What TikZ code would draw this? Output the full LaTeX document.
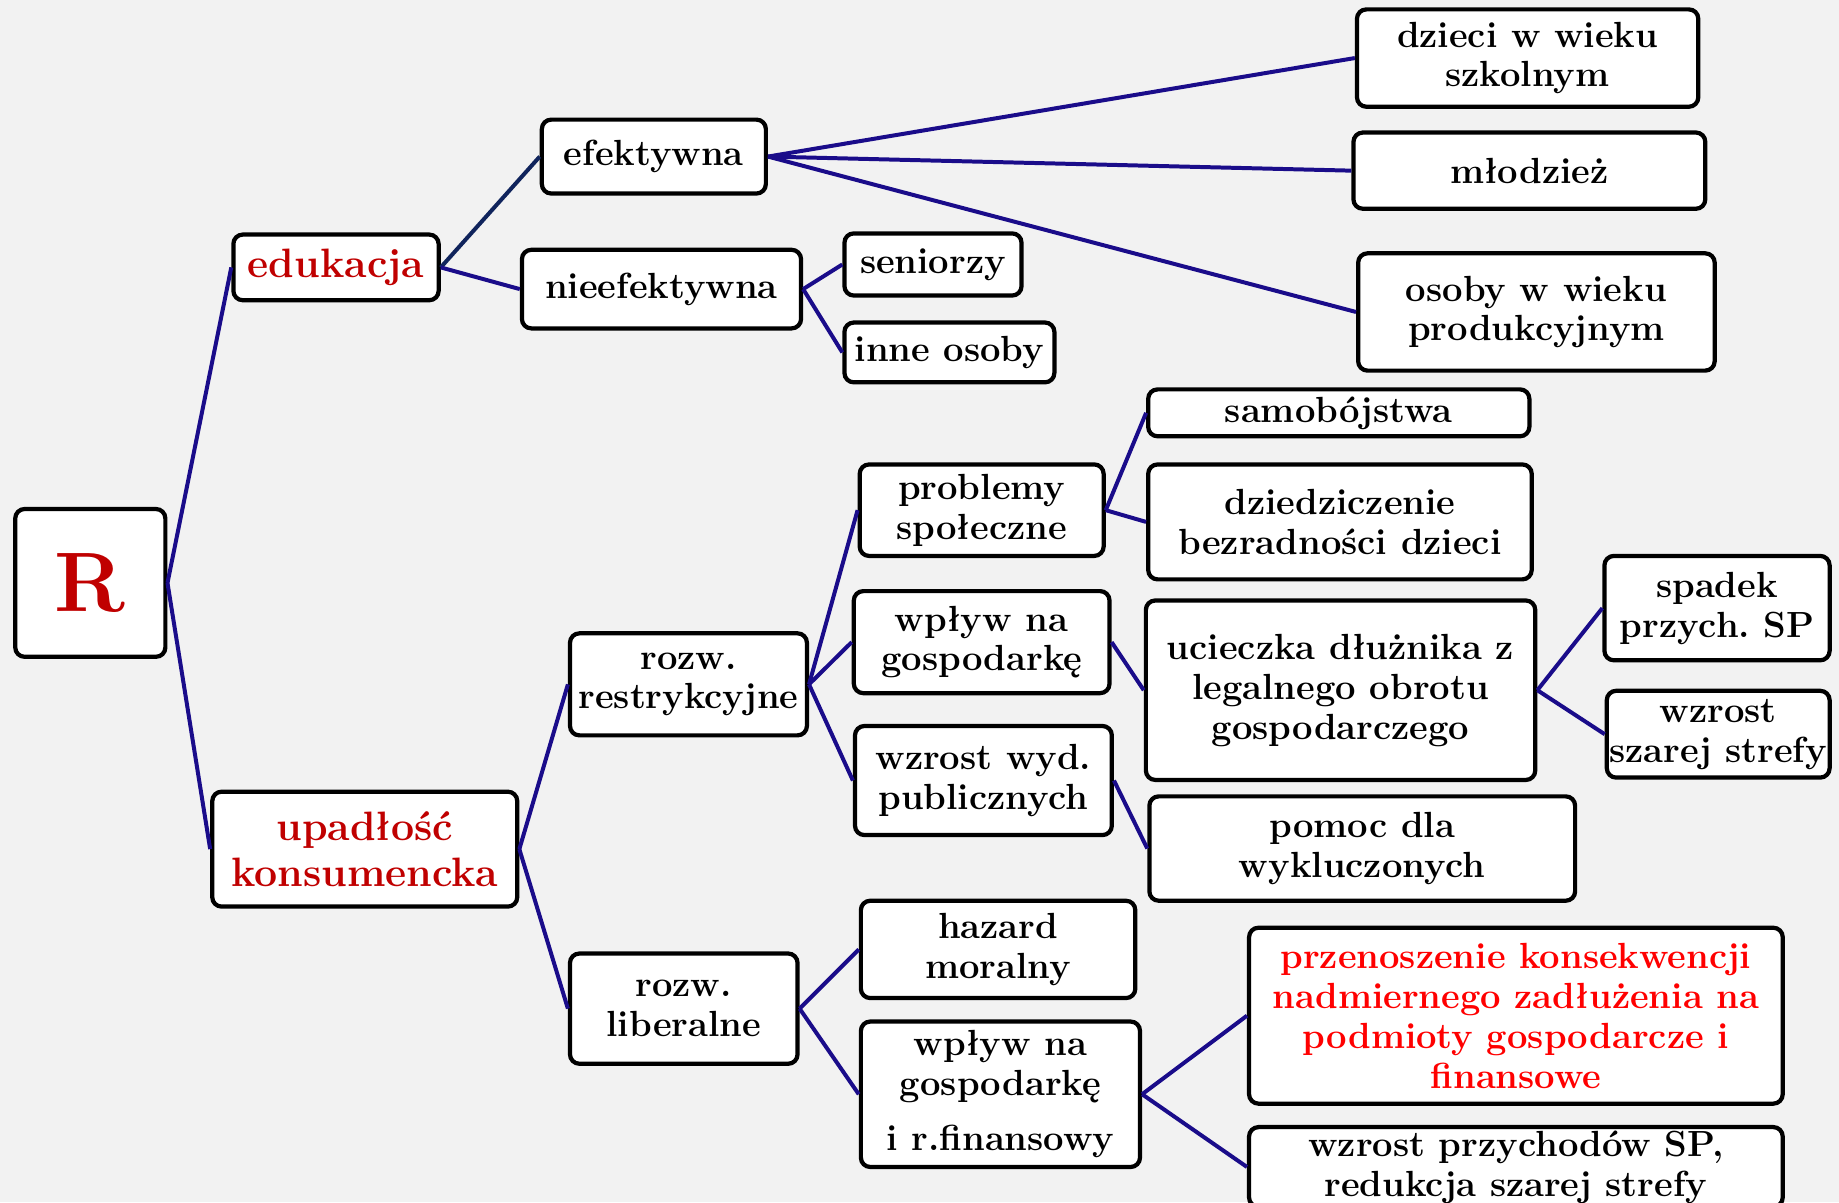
\documentclass[tikz,border=0pt]{standalone}
\usepackage{fontspec}
\frenchspacing
\definecolor{bggray}{RGB}{242,242,242}
\definecolor{linkblue}{RGB}{26,12,138}
\definecolor{linknavy}{RGB}{16,36,92}
\definecolor{darkred}{RGB}{192,0,0}
\definecolor{brightred}{RGB}{255,0,0}
\begin{document}
\begin{tikzpicture}[x=1pt, y=-1pt,
  box/.style={draw=black, line width=3.6pt, rounded corners=8pt, fill=white,
    align=center, inner sep=0pt, font=\bfseries\fontsize{31}{34}\selectfont},
  size/.style 2 args={minimum width=#1, minimum height=#2},
  redbox/.style={box, text=darkred, font=\bfseries\fontsize{35}{39}\selectfont},
  link/.style={draw=linkblue, line width=3.4pt}]
\useasboundingbox (0,0) rectangle (1568,1025);
\clip (0,0) rectangle (1568,1025);
\fill[bggray] (0,0) rectangle (1568,1025);
\node[box, size={128}{126}, text=darkred, font=\bfseries\fontsize{72}{80}\selectfont] (root) at (77,497) {R};
\node[redbox, size={175}{56}] (edu) at (286.5,228) {edukacja};
\node[redbox, size={260}{98}] (upad) at (311,724) {upadłość\\konsumencka};
\node[box, size={191}{63}] (efekt) at (557.5,133.5) {efektywna};
\node[box, size={238}{67}] (nieef) at (564,246.5) {nieefektywna};
\node[box, size={291}{83}] (dzieci) at (1302.5,49.5) {dzieci w wieku\\szkolnym};
\node[box, size={300}{65}] (mlodz) at (1304,145.5) {młodzież};
\node[box, size={304}{100}] (prod) at (1310,266) {osoby w wieku\\produkcyjnym};
\node[box, size={151}{53}] (senior) at (795.5,225.5) {seniorzy};
\node[box, size={179}{51}] (inne) at (809.5,300.5) {inne osoby};
\node[box, size={202}{87}] (restr) at (587,583.5) {rozw.\\restrykcyjne};
\node[box, size={208}{78}] (probl) at (837,435) {problemy\\społeczne};
\node[box, size={218}{87}] (wplyw) at (837,547.5) {wpływ na\\gospodarkę};
\node[box, size={219}{93}] (wyd) at (838.5,665.5) {wzrost wyd.\\publicznych};
\node[box, size={325}{40}] (samob) at (1141.5,352) {samobójstwa};
\node[box, size={327}{98}] (dzied) at (1142.5,445) {dziedziczenie\\bezradności dzieci};
\node[box, size={332}{153}] (uciecz) at (1143,588.5) {ucieczka dłużnika z\\legalnego obrotu\\gospodarczego};
\node[box, size={363}{89}] (pomoc) at (1161.5,723.5) {pomoc dla\\wykluczonych};
\node[box, size={192}{89}] (spadek) at (1464,518.5) {spadek\\przych. SP};
\node[box, size={190}{74}] (szara) at (1465,626) {wzrost\\szarej strefy};
\node[box, size={194}{94}] (liber) at (583,860) {rozw.\\liberalne};
\node[box, size={234}{83}] (hazard) at (851,809.5) {hazard\\moralny};
\node[box, size={238}{124}] (wplfin) at (853,933) {wpływ na\\gospodarkę\\[13pt]i r.finansowy};
\node[box, size={455}{150}, text=brightred] (przen) at (1292.5,866) {przenoszenie konsekwencji\\nadmiernego zadłużenia na\\podmioty gospodarcze i\\finansowe};
\node[box, size={455}{68}] (przych) at (1292.5,995) {wzrost przychodów SP,\\redukcja szarej strefy};
\draw[link] (root.east) -- (edu.west);
\draw[link] (root.east) -- (upad.west);
\draw[link, draw=linknavy] (edu.east) -- (efekt.west);
\draw[link] (edu.east) -- (nieef.west);
\draw[link] (efekt.east) -- (dzieci.west);
\draw[link] (efekt.east) -- (mlodz.west);
\draw[link] (efekt.east) -- (prod.west);
\draw[link] (nieef.east) -- (senior.west);
\draw[link] (nieef.east) -- (inne.west);
\draw[link] (upad.east) -- (restr.west);
\draw[link] (upad.east) -- (liber.west);
\draw[link] (restr.east) -- (probl.west);
\draw[link] (restr.east) -- (wplyw.west);
\draw[link] (restr.east) -- (wyd.west);
\draw[link] (probl.east) -- (samob.west);
\draw[link] (probl.east) -- (dzied.west);
\draw[link] (wplyw.east) -- (uciecz.west);
\draw[link] (wyd.east) -- (pomoc.west);
\draw[link] (uciecz.east) -- (spadek.west);
\draw[link] (uciecz.east) -- (szara.west);
\draw[link] (liber.east) -- (hazard.west);
\draw[link] (liber.east) -- (wplfin.west);
\draw[link] (wplfin.east) -- (przen.west);
\draw[link] (wplfin.east) -- (przych.west);
\end{tikzpicture}
\end{document}
